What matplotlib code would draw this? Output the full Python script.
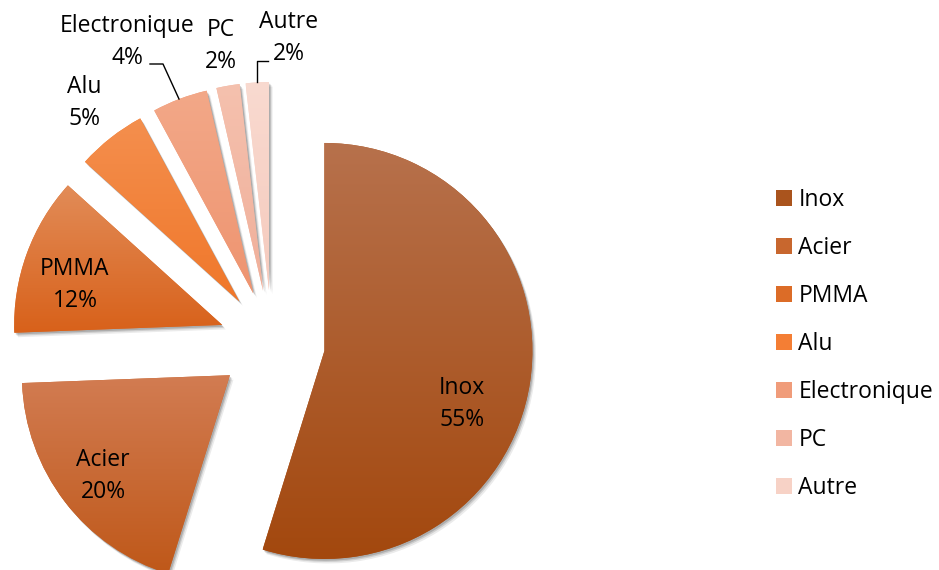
import numpy as np
import matplotlib
matplotlib.use("Agg")
import matplotlib.pyplot as plt
from matplotlib.colors import LinearSegmentedColormap
from matplotlib.patches import Wedge

# ---------------- data ----------------
categories = ["Inox", "Acier", "PMMA", "Alu", "Electronique", "PC", "Autre"]
shares = [54.8, 19.6, 12.3, 5.4, 4.3, 1.8, 1.8]

# ---------------- style ----------------
top_colors = ["#B7714C", "#D27C52", "#E28C58", "#F48F4E", "#F3A888", "#F5C1AE", "#F9DAD0"]
bottom_colors = ["#A3480E", "#BF5819", "#D8611A", "#F0772A", "#EE9470", "#F0AF9A", "#F5CABD"]
mid_colors = ["#AA541D", "#C8672E", "#DC6C27", "#F47E34", "#F09C7A", "#F2B6A2", "#F7D2C6"]

W, H = 939, 570
CENTER = (272, H - 343)
RADIUS = 208
EXPLODE = 53
FS = 16.5

# label block centres (pixel coords, y from top)
label_xy = [(462, 404), (103, 476), (75, 285), (84, 103), (127, 42), (221, 46), (289, 38)]
leaders = {4: [(150, 64), (163, 64), (179, 99)],
           6: [(268, 61), (257, 61), (257, 82)]}

plt.rcParams['font.family'] = ['Open Sans', 'DejaVu Sans']

fig = plt.figure(figsize=(W / 100, H / 100), dpi=100)
ax = fig.add_axes([0, 0, 1, 1])

wedges, _ = ax.pie(shares, colors=mid_colors, startangle=90, counterclock=False,
                   radius=RADIUS, center=CENTER, explode=[EXPLODE] * len(shares),
                   frame=False, wedgeprops=dict(linewidth=0, zorder=2))

grad = np.linspace(0, 1, 256).reshape(-1, 1)
for w, c0, c1 in zip(wedges, top_colors, bottom_colors):
    # soft shadow
    for k, a in [(4.5, 0.08), (3.0, 0.12), (1.8, 0.16)]:
        sh = Wedge((w.center[0] + k * 0.8, w.center[1] - k), w.r, w.theta1, w.theta2,
                   facecolor="#000000", alpha=a, linewidth=0, zorder=1)
        ax.add_patch(sh)
    ext = w.get_path().get_extents()
    cmap = LinearSegmentedColormap.from_list("g", [c0, c1])
    im = ax.imshow(grad, extent=(ext.x0, ext.x1, ext.y0, ext.y1), origin="upper",
                   cmap=cmap, aspect="auto", interpolation="bicubic", zorder=3)
    im.set_clip_path(w)

for i, (cat, val) in enumerate(zip(categories, shares)):
    x, y = label_xy[i]
    ax.text(x, H - y, f"{cat}\n{val:.0f}%", ha="center", va="center",
            fontsize=FS, color="#000000", linespacing=1.44, zorder=5)

for i, pts in leaders.items():
    xs = [p[0] for p in pts]
    ys = [H - p[1] for p in pts]
    ax.plot(xs, ys, color="#000000", linewidth=1.0, zorder=5)

leg = ax.legend(wedges, categories, loc="upper left",
                bbox_to_anchor=(776 / W, 1 - 188 / H), bbox_transform=fig.transFigure,
                frameon=False, fontsize=FS, handlelength=0.7, handleheight=0.7,
                handletextpad=0.28, labelspacing=1.05, borderpad=0, borderaxespad=0)

ax.set_xlim(0, W)
ax.set_ylim(0, H)
ax.set_aspect("auto")
ax.axis("off")

fig.savefig("out.png", dpi=100)
